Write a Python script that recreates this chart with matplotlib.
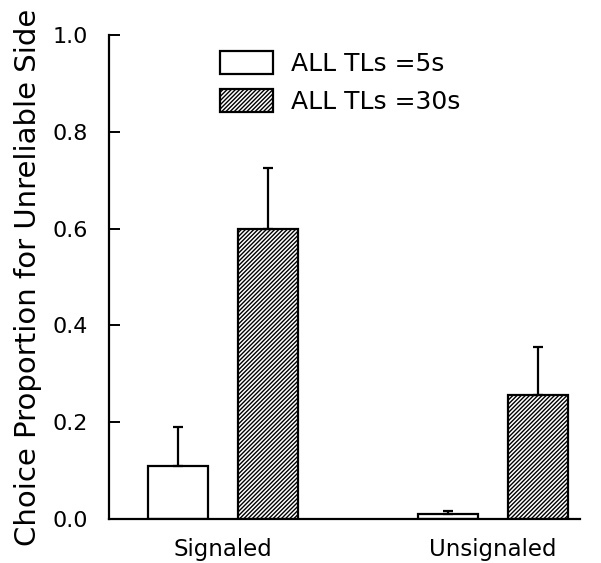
import numpy as np
import matplotlib.pyplot as plt

plt.rcParams['font.family'] = ['DejaVu Sans']
plt.rcParams['hatch.linewidth'] = 1.0

groups = ['Signaled', 'Unsignaled']
labels = ['ALL TLs =5s', 'ALL TLs =30s']
means_5s = [0.11, 0.01]
err_5s = [0.08, 0.006]
means_30s = [0.60, 0.257]
err_30s = [0.125, 0.098]

fig = plt.figure(figsize=(6.01, 5.63), dpi=100)
ax = fig.add_axes([0.1814, 0.0782, 0.7837, 0.8597])

centers = np.array([0.5, 3.5])
w = 0.67
ax.bar(centers - 0.5, means_5s, w, color='white', edgecolor='black', linewidth=1.6,
       yerr=[np.zeros(2), err_5s], capsize=3.5, error_kw=dict(elinewidth=1.6, capthick=1.6),
       label=labels[0])
ax.bar(centers + 0.5, means_30s, w, color='white', edgecolor='black', linewidth=1.6,
       hatch='////////', yerr=[np.zeros(2), err_30s], capsize=3.5,
       error_kw=dict(elinewidth=1.6, capthick=1.6), label=labels[1])

ax.set_xlim(-0.767, 4.467)
ax.set_ylim(0, 1.0)
ax.set_yticks([0.0, 0.2, 0.4, 0.6, 0.8, 1.0])
ax.set_yticklabels(['0.0', '0.2', '0.4', '0.6', '0.8', '1.0'])
ax.set_xticks(centers)
ax.set_xticklabels(groups)
ax.tick_params(axis='x', length=0, pad=14, labelsize=16.5)
ax.tick_params(axis='y', direction='in', length=8, width=1.4, pad=15, labelsize=16)
ax.spines['top'].set_visible(False)
ax.spines['right'].set_visible(False)
ax.spines['left'].set_linewidth(1.6)
ax.spines['bottom'].set_linewidth(1.6)
ax.set_ylabel('Choice Proportion for Unreliable Side', fontsize=21, labelpad=8)

ax.legend(loc='upper left', bbox_to_anchor=(0.188, 1.014), frameon=False, fontsize=18,
          handlelength=2.1, handleheight=1.08, handletextpad=0.75, labelspacing=0.5)

fig.savefig('out.png', dpi=100)
